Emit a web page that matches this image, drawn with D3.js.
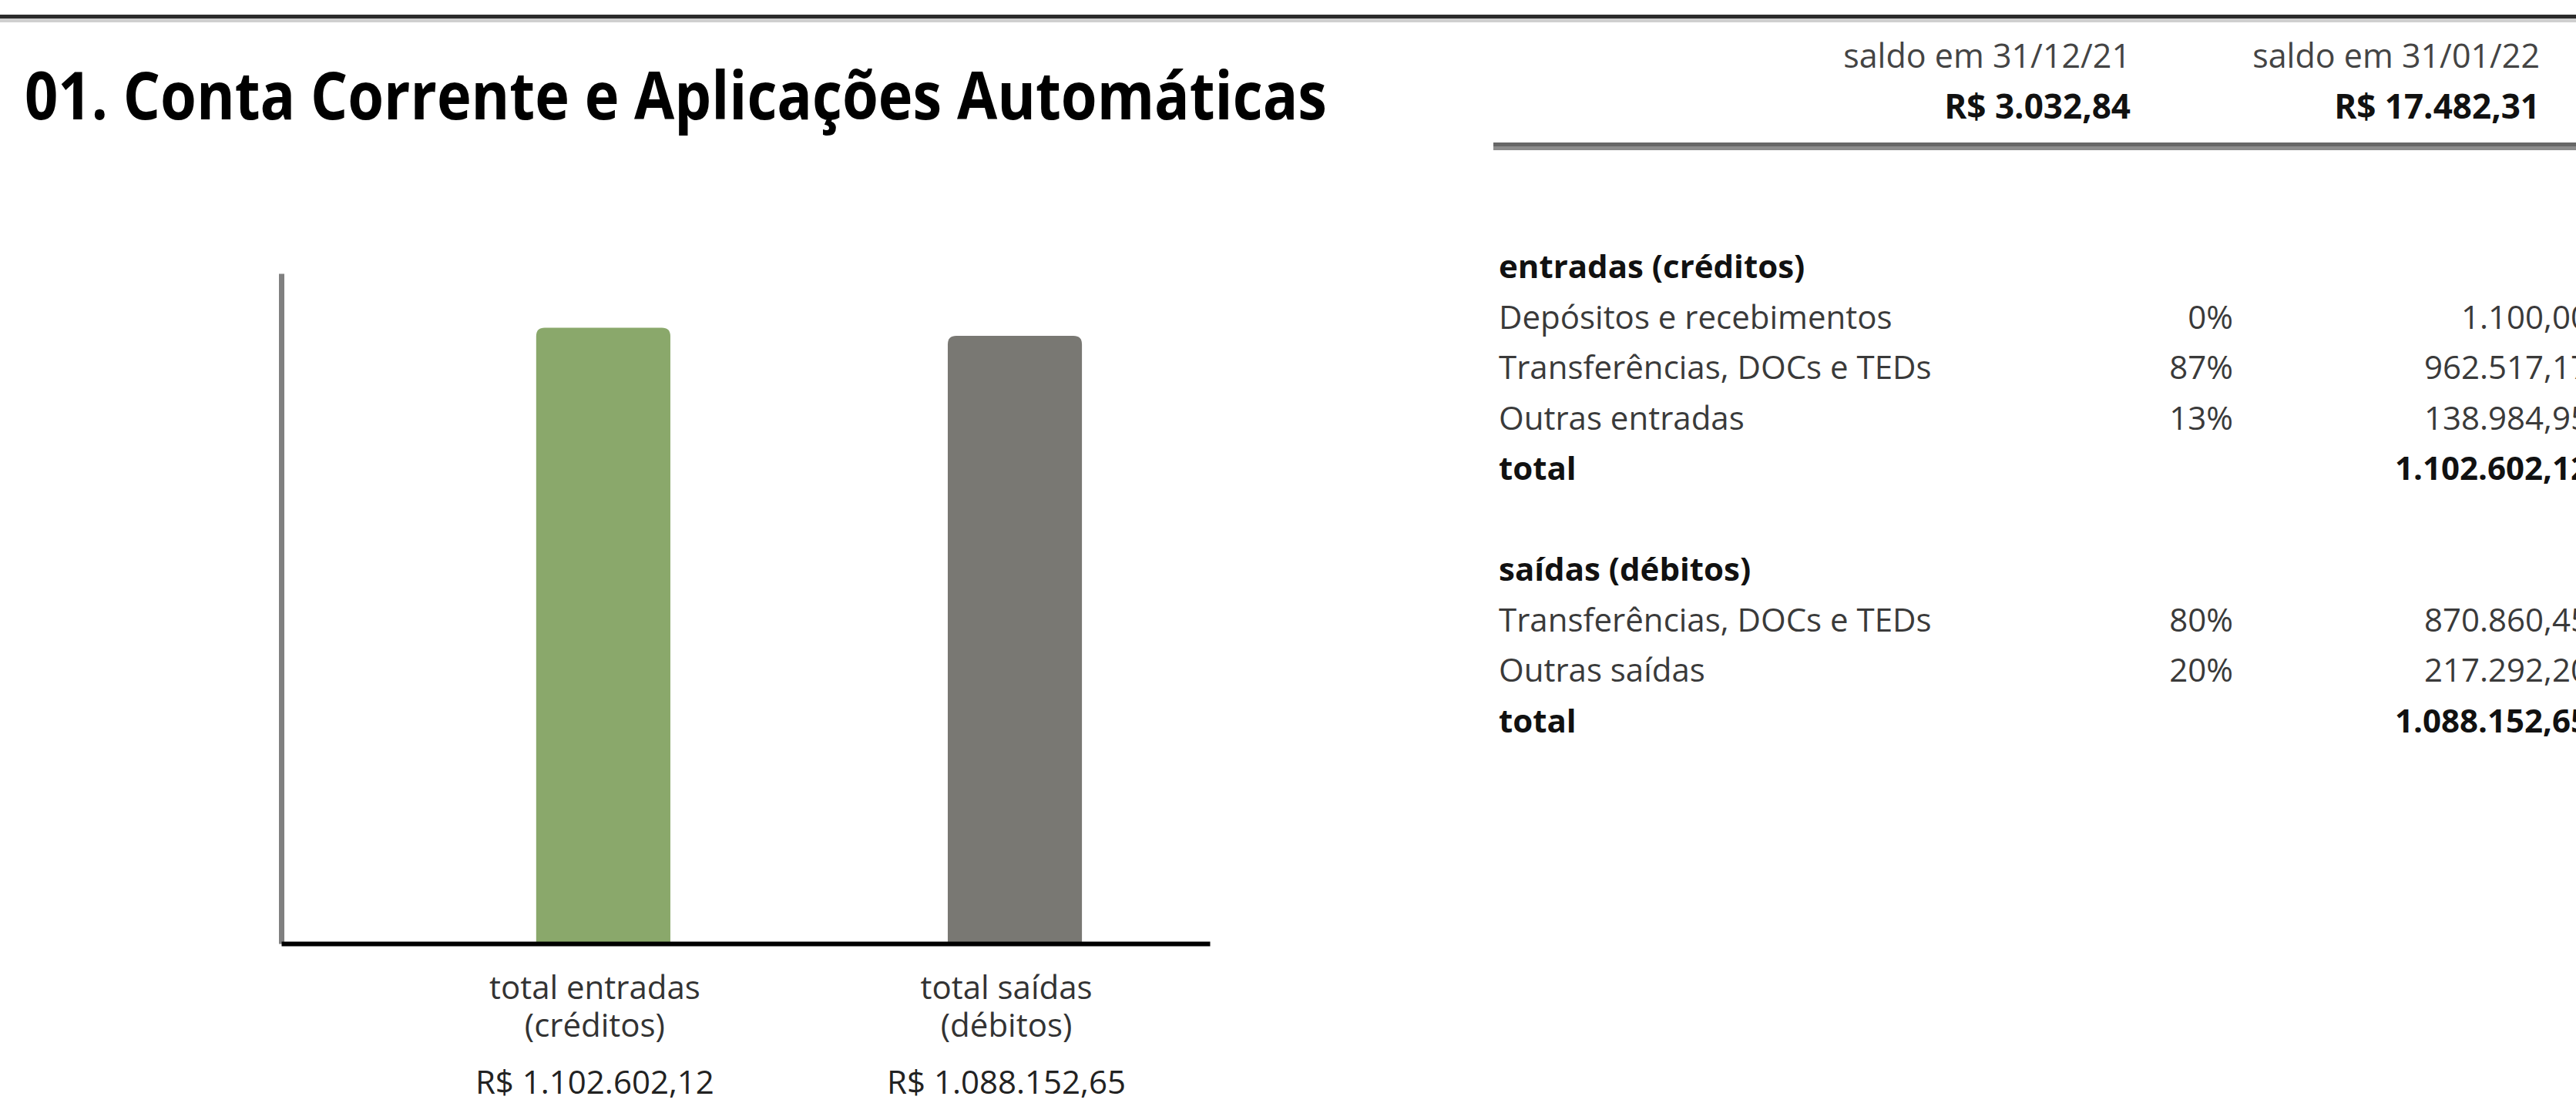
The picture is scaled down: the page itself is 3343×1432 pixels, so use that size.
<!DOCTYPE html>
<html lang="pt-BR">
<head>
<meta charset="utf-8">
<title>01. Conta Corrente e Aplicações Automáticas</title>
<script src="https://cdn.jsdelivr.net/npm/d3@7"></script>
<style>
  html, body { margin: 0; padding: 0; background: #fff; }
  svg { display: block; font-family: 'Open Sans', sans-serif; }
</style>
</head>
<body>
<div id="chart"></div>
<script>
const title = '01. Conta Corrente e Aplicações Automáticas'

const saldoLabels = ['saldo em 31/12/21', 'saldo em 31/01/22']
const saldoValues = [3032.84, 17482.31]

const entradasTitle = 'entradas (créditos)'
const entradasLabels = ['Depósitos e recebimentos', 'Transferências, DOCs e TEDs', 'Outras entradas']
const entradasPct = ['0%', '87%', '13%']
const entradasValues = [1100.00, 962517.17, 138984.95]
const entradasTotal = 1102602.12

const saidasTitle = 'saídas (débitos)'
const saidasLabels = ['Transferências, DOCs e TEDs', 'Outras saídas']
const saidasPct = ['80%', '20%']
const saidasValues = [870860.45, 217292.20]
const saidasTotal = 1088152.65

const barKeys = ['entradas', 'saidas']
const barLabels = [['total entradas', '(créditos)'], ['total saídas', '(débitos)']]
const barValues = [entradasTotal, saidasTotal]
const barColors = ['#8aa86b', '#797873']

const width = 3343,
      height = 1432

const br = d3.formatLocale({decimal: ',', thousands: '.', grouping: [3], currency: ['R$ ', '']})
const money = br.format('$,.2f')
const num = br.format(',.2f')

const svg = d3.select('#chart')
  .append('svg')
  .attr('width', width)
  .attr('height', height)

svg.append('rect').attr('width', width).attr('height', height).attr('fill', '#fff')

function label(g, x, y, s, o) {
  o = o || {}
  const t = g.append('text')
    .attr('x', x)
    .attr('y', y)
    .attr('font-size', o.size || 42)
    .attr('font-weight', o.weight || 400)
    .attr('fill', o.fill || '#333')
    .attr('text-anchor', o.anchor || 'start')
    .text(s)
  if (o.len) t.attr('textLength', o.len).attr('lengthAdjust', 'spacingAndGlyphs')
  return t
}

// top rule
svg.append('rect').attr('x', 0).attr('y', 19).attr('width', width).attr('height', 5).attr('fill', '#2b2b2b')
svg.append('rect').attr('x', 0).attr('y', 24).attr('width', width).attr('height', 5).attr('fill', '#cfcfcf')

label(svg, 32, 155, title, {size: 86, weight: 700, fill: '#000', len: 1690})

// balances header
const saldoX = [2765, 3296]
saldoLabels.forEach(function(s, i) {
  label(svg, saldoX[i], 88, s, {size: 43, anchor: 'end', fill: '#444'})
  label(svg, saldoX[i], 154, money(saldoValues[i]), {size: 44, weight: 700, anchor: 'end', fill: '#111'})
})
svg.append('rect').attr('x', 1938).attr('y', 185).attr('width', width - 1938).attr('height', 5).attr('fill', '#676767')
svg.append('rect').attr('x', 1938).attr('y', 190).attr('width', width - 1938).attr('height', 5).attr('fill', '#8c8c8c')

// table
const tableX = 1945,
      pctX = 2898,
      valX = 3360,
      rowY = d3.scaleLinear().domain([0, 1]).range([361, 426.5])

const rows = []
rows.push({label: entradasTitle, bold: true})
entradasLabels.forEach(function(s, i) { rows.push({label: s, pct: entradasPct[i], value: entradasValues[i]}) })
rows.push({label: 'total', value: entradasTotal, bold: true})
rows.push(null)
rows.push({label: saidasTitle, bold: true})
saidasLabels.forEach(function(s, i) { rows.push({label: s, pct: saidasPct[i], value: saidasValues[i]}) })
rows.push({label: 'total', value: saidasTotal, bold: true})

const table = svg.append('g')
rows.forEach(function(r, i) {
  if (!r) return
  const y = rowY(i)
  const style = r.bold ? {weight: 700, fill: '#111'} : {fill: '#3a3a3a'}
  label(table, tableX, y, r.label, style)
  if (r.pct) label(table, pctX, y, r.pct, {anchor: 'end', fill: '#3a3a3a'})
  if (r.value != null) label(table, valX, y, num(r.value), Object.assign({anchor: 'end'}, style))
})

// bar chart
const x = d3.scaleBand()
  .domain(barKeys)
  .range([365, 1570])
  .paddingInner(0.674)
  .paddingOuter(0.465)
  .align(0.666)

const y = d3.scaleLinear()
  .domain([0, 1200000])
  .range([1225, 355])

function topRounded(x0, y0, w, h, r) {
  return 'M' + x0 + ',' + (y0 + h) +
    'V' + (y0 + r) +
    'Q' + x0 + ',' + y0 + ' ' + (x0 + r) + ',' + y0 +
    'H' + (x0 + w - r) +
    'Q' + (x0 + w) + ',' + y0 + ' ' + (x0 + w) + ',' + (y0 + r) +
    'V' + (y0 + h) + 'Z'
}

svg.selectAll('.bar')
  .data(barValues)
  .enter().append('path')
  .attr('class', 'bar')
  .attr('fill', function(d, i) { return barColors[i] })
  .attr('d', function(d, i) {
    return topRounded(x(barKeys[i]), y(d), x.bandwidth(), y(0) - y(d), 11)
  })

svg.append('g')
  .attr('transform', 'translate(365,0)')
  .call(d3.axisLeft(y).ticks(0).tickSizeOuter(0))
  .call(function(g) { g.select('.domain').attr('stroke', '#808080').attr('stroke-width', 7) })

svg.append('g')
  .attr('transform', 'translate(0,' + y(0) + ')')
  .call(d3.axisBottom(x).tickSize(0).tickFormat(''))
  .call(function(g) { g.select('.domain').attr('stroke', '#000').attr('stroke-width', 6) })

// category names under the bars, two lines in one text block
const labels = svg.append('g')
barKeys.forEach(function(k, i) {
  const cx = x(k) + x.bandwidth() / 2 - 11
  const t = label(labels, cx, 1297, null, {anchor: 'middle'})
  t.append('tspan').attr('x', cx).attr('y', 1297).text(barLabels[i][0])
  t.append('tspan').attr('x', cx).attr('dy', 49).text(barLabels[i][1])
  label(labels, cx, 1420, money(barValues[i]), {anchor: 'middle', fill: '#222'})
})
</script>
</body>
</html>
